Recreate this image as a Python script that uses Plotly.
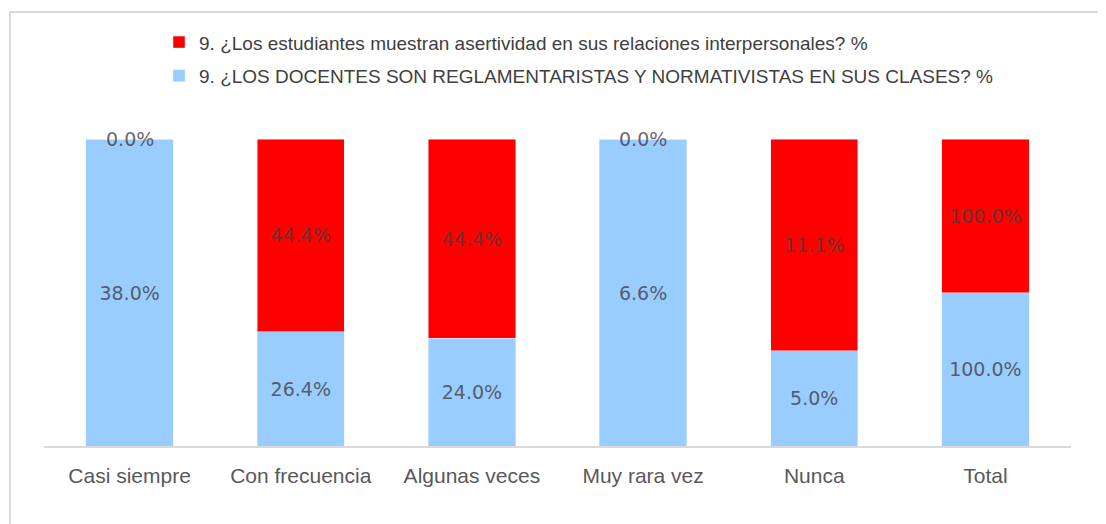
import plotly.graph_objects as go

# Categories and values
categories = ["Casi siempre", "Con frecuencia", "Algunas veces", "Muy rara vez", "Nunca", "Total"]
docentes_pct = [38.0, 26.4, 24.0, 6.6, 5.0, 100.0]
estudiantes_pct = [0.0, 44.4, 44.4, 0.0, 11.1, 100.0]

name_docentes = "9. ¿LOS DOCENTES SON REGLAMENTARISTAS Y NORMATIVISTAS EN SUS CLASES? %"
name_estudiantes = "9. ¿Los estudiantes muestran asertividad en sus relaciones interpersonales? %"

label_font = dict(family="DejaVu Sans", size=19, color="rgba(64,64,64,0.8)")

fig = go.Figure()

fig.add_trace(go.Bar(
    x=categories,
    y=docentes_pct,
    name=name_docentes,
    marker_color="#99ccff",
    text=[f"{v:.1f}%" if v > 0 else "" for v in docentes_pct],
    textposition="inside",
    insidetextanchor="middle",
    textfont=label_font,
    legendgroup="docentes",
    legendrank=2,
    hoverinfo="skip",
))

fig.add_trace(go.Bar(
    x=categories,
    y=estudiantes_pct,
    name=name_estudiantes,
    marker_color="#ff0000",
    text=[f"{v:.1f}%" if v > 0 else "" for v in estudiantes_pct],
    textposition="inside",
    insidetextanchor="middle",
    textfont=label_font,
    legendgroup="estudiantes",
    legendrank=1,
    hoverinfo="skip",
))

# zero-height segments still get their label, sitting on top of the stack
for cat, v in zip(categories, estudiantes_pct):
    if v == 0:
        fig.add_annotation(
            x=cat, y=100, text=f"{v:.1f}%", showarrow=False,
            yanchor="middle", font=label_font,
        )

# light grey chart border (cropped on the right and bottom in the original)
fig.add_shape(
    type="rect", xref="paper", yref="paper",
    x0=-0.0331, x1=1.08, y0=-0.3, y1=1.4137,
    line=dict(color="#d9d9d9", width=2), fillcolor="rgba(0,0,0,0)", layer="below",
)

# page body has an 8px margin, so the figure is a bit smaller than the window
fig.update_layout(
    width=1098,
    height=516,
    barmode="stack",
    barnorm="percent",
    bargap=0.49,
    plot_bgcolor="white",
    paper_bgcolor="white",
    margin=dict(l=36, r=35, t=131, b=78, autoexpand=False),
    showlegend=True,
    legend=dict(
        x=0.112, y=1.377, xanchor="left", yanchor="top",
        traceorder="grouped",
        tracegroupgap=6,
        font=dict(family="Liberation Sans", size=19, color="#404040"),
        bgcolor="rgba(0,0,0,0)",
    ),
    xaxis=dict(
        showline=True, linecolor="#d9d9d9", linewidth=2,
        ticks="", showgrid=False,
        tickfont=dict(family="Liberation Sans", size=21, color="#595959"),
        ticklabelstandoff=10,
    ),
    yaxis=dict(range=[0, 100], visible=False, showgrid=False),
)

fig.write_html("out.html")
